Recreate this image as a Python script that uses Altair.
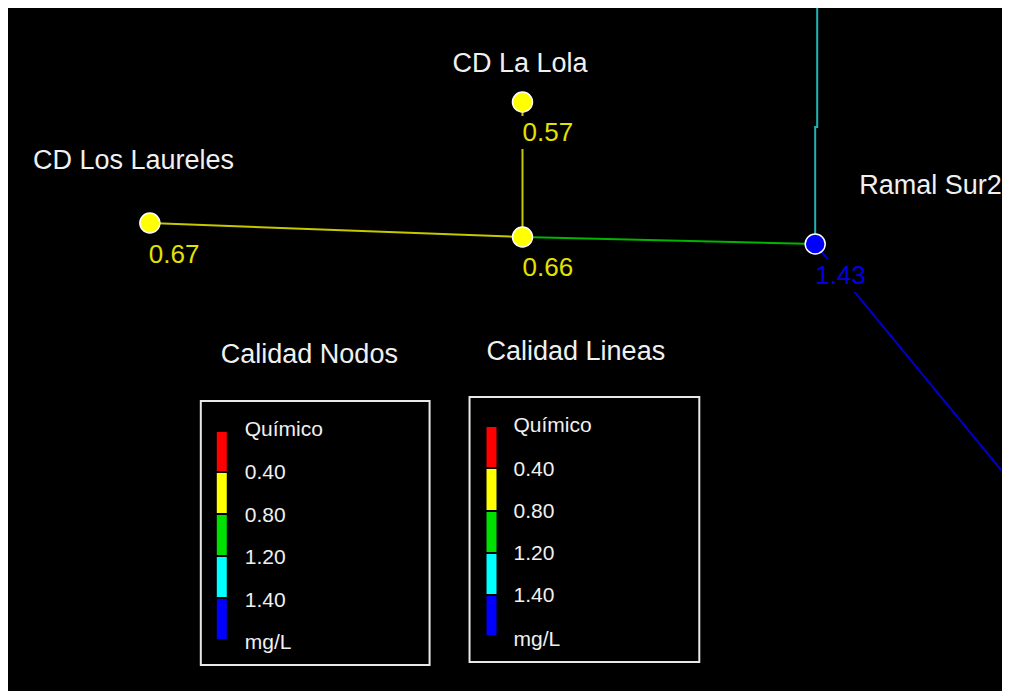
import altair as alt
import pandas as pd

# ---- canvas (reference pixel coordinates are used as map coordinates) ----
W, H = 994, 683
X_DOMAIN = [8, 1002]
Y_DOMAIN = [8, 691]
FONT = "Liberation Sans"

# ---- network nodes ----
node_ids = ["Laureles", "LaLola", "Cruce", "RamalSur2"]
node_x = [150, 523, 523, 816]
node_y = [223, 102, 237, 244]
node_fill = ["#ffff00", "#ffff00", "#ffff00", "#0000ff"]

# node quality values and where they are written
value_text = ["0.67", "0.57", "0.66", "1.43"]
value_x = [149, 523, 523, 816]
value_y = [255, 133, 268, 276]
value_color = ["#e2e200", "#e2e200", "#e2e200", "#0000e0"]

# node names
name_text = ["CD Los Laureles", "CD La Lola", "Ramal Sur2"]
name_x = [33, 453, 860]
name_y = [161, 64, 186]

# ---- network links (vertex lists) ----
link_ids = ["P1", "P2", "P3", "P4", "P5"]
link_color = ["#c8c800", "#c8c800", "#00b400", "#1fb4b4", "#0000c8"]
link_xs = [[150, 523], [523, 523], [523, 816], [816, 816, 818, 818], [816, 1012]]
link_ys = [[223, 237], [102, 237], [237, 244], [244, 127, 127, 4], [244, 482]]

# ---- legends ----
legend_titles = ["Calidad Nodos", "Calidad Lineas"]
legend_title_x = [221, 487]
legend_title_y = [355, 352]
legend_box_x1 = [201, 470]
legend_box_x2 = [430, 700]
legend_box_y1 = [401, 397]
legend_box_y2 = [665, 662]
legend_bar_x = [217, 487]
legend_bar_edges = [[432, 473, 515, 557, 599, 641], [427, 469, 512, 554, 596, 637]]
legend_colors = ["#ff0000", "#ffff00", "#00e000", "#00ffff", "#0000ff"]
legend_labels = ["Químico", "0.40", "0.80", "1.20", "1.40", "mg/L"]
legend_label_x = [245, 514]
legend_label_ys = [[430, 473, 516, 558, 601, 643], [426, 470, 512, 554, 596, 640]]

# ---- tables ----
nodes = pd.DataFrame({"id": node_ids, "x": node_x, "y": node_y, "fill": node_fill})
values = pd.DataFrame({"t": value_text, "x": value_x, "y": value_y, "c": value_color})
values["bx1"] = values["x"] - 3
values["bx2"] = values["x"] + 55
values["by1"] = values["y"] - 17
values["by2"] = values["y"] + 16
names = pd.DataFrame({"t": name_text, "x": name_x, "y": name_y})

rows = []
for lid, col, xs_, ys_ in zip(link_ids, link_color, link_xs, link_ys):
    for k, (xx, yy) in enumerate(zip(xs_, ys_)):
        rows.append({"link": lid, "o": k, "x": xx, "y": yy, "c": col})
links = pd.DataFrame(rows)

boxes = pd.DataFrame({"x1": legend_box_x1, "x2": legend_box_x2,
                      "y1": legend_box_y1, "y2": legend_box_y2})
titles = pd.DataFrame({"t": legend_titles, "x": legend_title_x, "y": legend_title_y})
bars, labels = [], []
for i in range(2):
    e = legend_bar_edges[i]
    for j, col in enumerate(legend_colors):
        bars.append({"x1": legend_bar_x[i], "x2": legend_bar_x[i] + 10,
                     "y1": e[j], "y2": e[j + 1] - 2, "c": col})
    for lab, yy in zip(legend_labels, legend_label_ys[i]):
        labels.append({"t": lab, "x": legend_label_x[i], "y": yy})
bars = pd.DataFrame(bars)
labels = pd.DataFrame(labels)

xs = alt.Scale(domain=X_DOMAIN, nice=False, zero=False)
ys = alt.Scale(domain=Y_DOMAIN, nice=False, zero=False, reverse=True)


def X(f):
    return alt.X(f"{f}:Q", scale=xs, axis=None)


def Y(f):
    return alt.Y(f"{f}:Q", scale=ys, axis=None)


link_layer = alt.Chart(links).mark_line(strokeWidth=2, clip=True).encode(
    x=X("x"), y=Y("y"), detail="link:N", order="o:Q",
    color=alt.Color("c:N", scale=None))

value_bg = alt.Chart(values).mark_rect(color="#000000").encode(
    x=X("bx1"), x2="bx2", y=Y("by1"), y2="by2")

node_layer = alt.Chart(nodes).mark_point(
    shape="circle", filled=True, size=400, stroke="#ffffff", strokeWidth=1.5, opacity=1
).encode(x=X("x"), y=Y("y"), fill=alt.Fill("fill:N", scale=None))

value_layer = alt.Chart(values).mark_text(
    align="left", baseline="middle", font=FONT, fontSize=26
).encode(x=X("x"), y=Y("y"), text="t:N", color=alt.Color("c:N", scale=None))

name_layer = alt.Chart(names).mark_text(
    align="left", baseline="middle", font=FONT, fontSize=27, color="#f0f0f0"
).encode(x=X("x"), y=Y("y"), text="t:N")

box_layer = alt.Chart(boxes).mark_rect(
    fill="#000000", stroke="#e8e8e8", strokeWidth=2
).encode(x=X("x1"), x2="x2", y=Y("y1"), y2="y2")

bar_layer = alt.Chart(bars).mark_rect().encode(
    x=X("x1"), x2="x2", y=Y("y1"), y2="y2", color=alt.Color("c:N", scale=None))

label_layer = alt.Chart(labels).mark_text(
    align="left", baseline="middle", font=FONT, fontSize=21, color="#f0f0f0"
).encode(x=X("x"), y=Y("y"), text="t:N")

title_layer = alt.Chart(titles).mark_text(
    align="left", baseline="middle", font=FONT, fontSize=27, color="#f0f0f0"
).encode(x=X("x"), y=Y("y"), text="t:N")

chart = alt.layer(
    link_layer, value_bg, node_layer, value_layer, name_layer,
    box_layer, bar_layer, label_layer, title_layer
).properties(
    width=W, height=H, background="#000000", padding=0,
    autosize=alt.AutoSizeParams(type="fit", contains="padding")
).configure_view(stroke=None, fill="#000000")

chart.save("out.html", embed_options={"renderer": "svg", "actions": False})
